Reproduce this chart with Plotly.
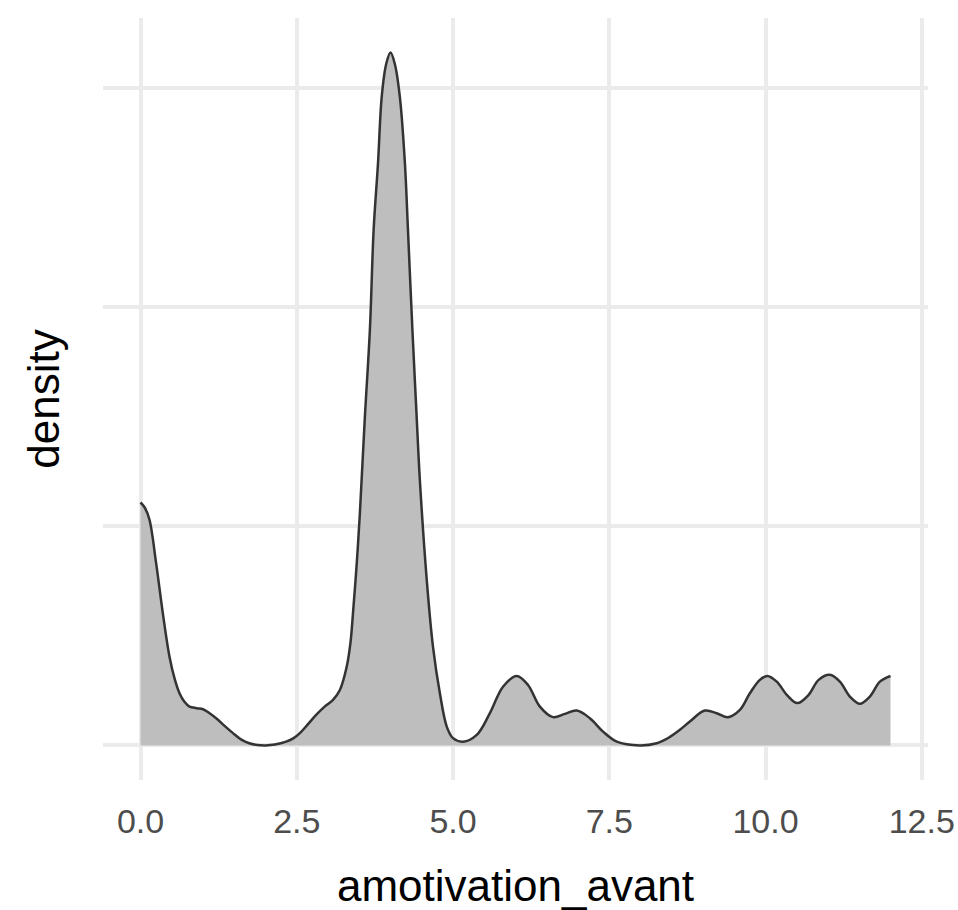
import plotly.graph_objects as go

# Density curve
x_vals = [0.0, 0.07, 0.144, 0.25, 0.357, 0.464, 0.55, 0.624, 0.70, 0.784, 0.90, 1.0,
          1.1, 1.21, 1.35, 1.48, 1.62, 1.74, 1.87, 2.0, 2.15, 2.33, 2.45, 2.55,
          2.68, 2.81, 2.95, 3.08, 3.19, 3.30, 3.36, 3.40, 3.46, 3.51, 3.59, 3.67,
          3.73, 3.80, 3.86, 3.93, 4.0, 4.07, 4.15, 4.23, 4.28, 4.35, 4.41, 4.47,
          4.58, 4.68, 4.79, 4.90, 5.0, 5.16, 5.38, 5.59, 5.80, 6.02, 6.20, 6.39,
          6.60, 6.79, 6.98, 7.19, 7.40, 7.62, 7.99, 8.26, 8.45, 8.63, 8.79, 9.03,
          9.22, 9.40, 9.59, 9.75, 9.91, 10.03, 10.18, 10.34, 10.51, 10.69, 10.85, 11.03,
          11.19, 11.35, 11.51, 11.67, 11.83, 12.0]
density = [0.1109, 0.1085, 0.103, 0.0832, 0.0604, 0.0405, 0.030, 0.0238, 0.0200, 0.0177, 0.0170, 0.0165,
           0.0148, 0.0124, 0.0088, 0.0056, 0.0025, 0.001, 0.0002, 0.0, 0.0004, 0.0017, 0.0033, 0.0056,
           0.0097, 0.0139, 0.0178, 0.0208, 0.0253, 0.036, 0.047, 0.0604, 0.0832, 0.106, 0.150, 0.1897,
           0.2354, 0.2658, 0.2963, 0.311, 0.3163, 0.311, 0.296, 0.266, 0.235, 0.19, 0.155, 0.121,
           0.0756, 0.045, 0.0238, 0.0086, 0.0033, 0.0017, 0.0048, 0.0147, 0.0268, 0.0317, 0.0276, 0.0177,
           0.0129, 0.0144, 0.0159, 0.0124, 0.0063, 0.0017, 0.0, 0.001, 0.0035, 0.0071, 0.0109, 0.0159,
           0.0147, 0.0129, 0.0162, 0.0238, 0.0299, 0.0317, 0.0291, 0.0231, 0.0193, 0.0231, 0.0299, 0.0322,
           0.0291, 0.0223, 0.019, 0.0223, 0.0291, 0.0317]

x_ticks = [0.0, 2.5, 5.0, 7.5, 10.0, 12.5]
x_tick_labels = ["0.0", "2.5", "5.0", "7.5", "10.0", "12.5"]
y_grid = [0.0, 0.1, 0.2, 0.3]

fig = go.Figure()
fig.add_trace(go.Scatter(
    x=x_vals, y=density, mode="lines",
    line=dict(color="#333333", width=2.5, shape="spline", smoothing=1.0),
    fill="tozeroy", fillcolor="#bebebe",
    hoverinfo="x+y", showlegend=False,
))

font_family = "Liberation Sans, Arial, sans-serif"
fig.update_layout(
    width=958, height=910,
    margin=dict(l=103, r=30, t=18, b=130),
    paper_bgcolor="white", plot_bgcolor="white",
    font=dict(family=font_family, color="#000000"),
    xaxis=dict(
        range=[-0.6, 12.6], tickvals=x_ticks, ticktext=x_tick_labels,
        automargin=False,
        showgrid=True, gridcolor="#ebebeb", gridwidth=3.5,
        zeroline=False, showline=False,
        ticks="outside", ticklen=11, tickcolor="rgba(0,0,0,0)",
        tickfont=dict(size=34, color="#4d4d4d"),
        ticklabeloverflow="allow",
        title=dict(text="amotivation_avant", font=dict(size=44, color="#000000"), standoff=33),
    ),
    yaxis=dict(
        range=[-0.0158, 0.3321], tickvals=y_grid, showticklabels=False,
        automargin=False,
        showgrid=True, gridcolor="#ebebeb", gridwidth=3.5,
        zeroline=False, showline=False, ticks="",
        title=dict(text="density", font=dict(size=44, color="#000000"), standoff=28),
    ),
)

fig.write_html(
    "out.html",
    config={"displayModeBar": False},
    post_script="document.body.style.margin='0';document.body.style.overflow='hidden';",
)
